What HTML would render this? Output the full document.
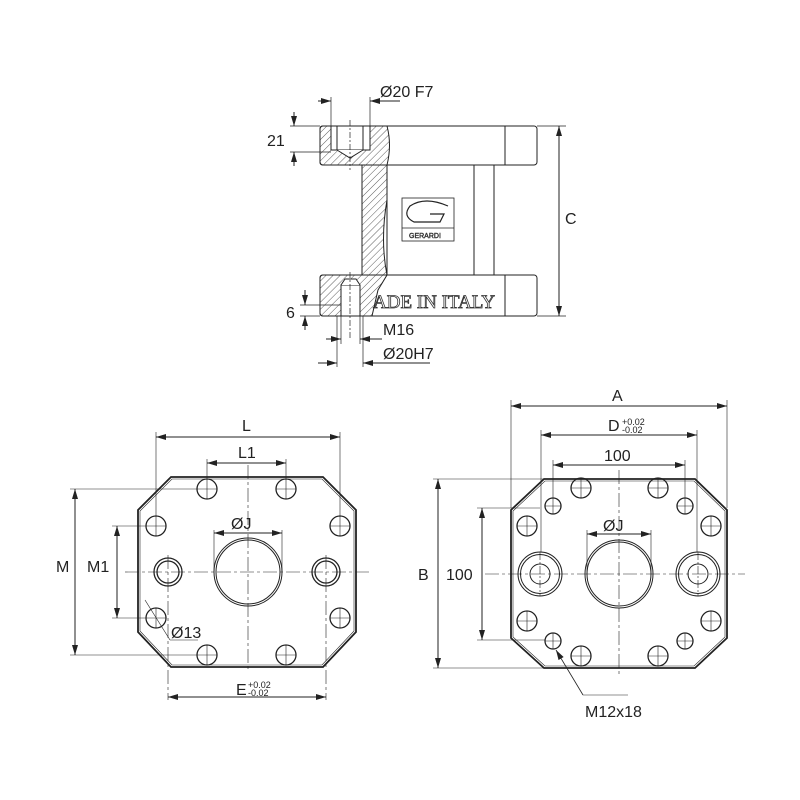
<!DOCTYPE html>
<html><head><meta charset="utf-8"><style>
html,body{margin:0;padding:0;background:#fff}
svg{display:block}
text{font-family:"Liberation Sans",sans-serif;fill:#222}
</style></head><body>
<svg width="800" height="800" viewBox="0 0 800 800" xmlns="http://www.w3.org/2000/svg">
<defs>
<pattern id="h" patternUnits="userSpaceOnUse" width="5" height="5" patternTransform="rotate(45)">
<line x1="0" y1="0" x2="0" y2="5" stroke="#333" stroke-width="0.8"/></pattern>
<marker id="a" viewBox="0 0 10 6" refX="10" refY="3" markerWidth="10" markerHeight="6" orient="auto-start-reverse" markerUnits="userSpaceOnUse"><path d="M0,0L10,3L0,6z" fill="#222"/></marker>
</defs>
<g stroke="#222" fill="none" stroke-width="1">
<!-- TOP VIEW -->
<rect x="320" y="126" width="217" height="39" rx="3" fill="#fff"/>
<rect x="320" y="275" width="217" height="41" rx="3" fill="#fff"/>
<line x1="505" y1="126" x2="505" y2="165"/><line x1="505" y1="275" x2="505" y2="316"/>
<line x1="474" y1="165" x2="474" y2="275"/><line x1="494" y1="165" x2="494" y2="275"/>
<line x1="387" y1="165" x2="387" y2="275"/>
<path d="M320,129 Q320,126 323,126 L387,126 Q392,145 387,165 L387,200 Q380,240 387,275 L378,290 L372,316 L323,316 Q320,316 320,313 L320,278 Q320,275 323,275 L362,275 L362,165 L323,165 Q320,165 320,162 Z" fill="url(#h)"/>
<rect x="331" y="126" width="39" height="24" fill="#fff"/>
<rect x="337" y="126" width="26" height="24" fill="#fff"/>
<path d="M337,150 L350,158 L363,150" fill="#fff"/>
<rect x="341" y="285" width="19" height="31" fill="#fff"/>
<path d="M341,285 L345,279 L356,279 L360,285" fill="#fff"/>
<line x1="350" y1="120" x2="350" y2="170" stroke-dasharray="6,2,2,2" stroke-width="0.7"/>
<line x1="350" y1="272" x2="350" y2="340" stroke-dasharray="6,2,2,2" stroke-width="0.7"/>
<rect x="402" y="198" width="52" height="43" stroke-width="0.8"/>
<line x1="402" y1="228" x2="454" y2="228" stroke-width="0.8"/>
<path d="M448,206 Q425,196 410,206 Q402,216 414,222 L440,222 L444,214 L430,214" stroke-width="1.2"/>
<!-- top dims -->
<line x1="331" y1="97" x2="331" y2="126" stroke-width="0.7"/><line x1="370" y1="97" x2="370" y2="126" stroke-width="0.7"/>
<line x1="318" y1="101" x2="331" y2="101" marker-end="url(#a)"/><line x1="400" y1="101" x2="370" y2="101" marker-end="url(#a)"/>
<line x1="290" y1="126" x2="320" y2="126" stroke-width="0.7"/><line x1="290" y1="152" x2="331" y2="152" stroke-width="0.7"/>
<line x1="294" y1="112" x2="294" y2="126" marker-end="url(#a)"/><line x1="294" y1="166" x2="294" y2="152" marker-end="url(#a)"/>
<line x1="300" y1="305" x2="341" y2="305" stroke-width="0.7"/><line x1="300" y1="316" x2="320" y2="316" stroke-width="0.7"/>
<line x1="305" y1="290" x2="305" y2="305" marker-end="url(#a)"/><line x1="305" y1="330" x2="305" y2="316" marker-end="url(#a)"/>
<line x1="537" y1="126" x2="566" y2="126" stroke-width="0.7"/><line x1="537" y1="316" x2="566" y2="316" stroke-width="0.7"/>
<line x1="559" y1="126" x2="559" y2="316" marker-start="url(#a)" marker-end="url(#a)"/>
<line x1="341" y1="316" x2="341" y2="344" stroke-width="0.7"/><line x1="360" y1="316" x2="360" y2="344" stroke-width="0.7"/>
<line x1="326" y1="339" x2="341" y2="339" marker-end="url(#a)"/><line x1="382" y1="339" x2="360" y2="339" marker-end="url(#a)"/>
<line x1="337" y1="316" x2="337" y2="367" stroke-width="0.7"/><line x1="363" y1="316" x2="363" y2="367" stroke-width="0.7"/>
<line x1="318" y1="363" x2="337" y2="363" marker-end="url(#a)"/><line x1="430" y1="363" x2="363" y2="363" marker-end="url(#a)"/>

<!-- LEFT PLATE -->
<path d="M171,477 L323,477 L356,510 L356,632 L323,667 L171,667 L138,632 L138,510 Z" stroke-width="1.8"/>
<path d="M172,479 L322,479 L354,511 L354,631 L322,665 L172,665 L140,631 L140,511 Z" stroke-width="0.6"/>
<circle cx="248" cy="572" r="34" stroke-width="1"/><circle cx="248" cy="572" r="32" stroke-width="1"/>
<g stroke-width="1.3">
<circle cx="207" cy="489" r="10"/><circle cx="286" cy="489" r="10"/><circle cx="207" cy="655" r="10"/><circle cx="286" cy="655" r="10"/>
<circle cx="156" cy="526" r="10"/><circle cx="340" cy="526" r="10"/><circle cx="156" cy="618" r="10"/><circle cx="340" cy="618" r="10"/>
<circle cx="168" cy="572" r="14"/><circle cx="168" cy="572" r="11"/><circle cx="326" cy="572" r="14"/><circle cx="326" cy="572" r="11"/>
</g>
<g stroke-width="0.6">
<path d="M197,489h20M207,479v20M276,489h20M286,479v20M197,655h20M207,645v20M276,655h20M286,645v20M146,526h20M156,516v20M330,526h20M340,516v20M146,618h20M156,608v20M330,618h20M340,608v20"/>
<line x1="125" y1="572" x2="372" y2="572" stroke-dasharray="14,3,3,3"/>
<line x1="248" y1="465" x2="248" y2="672" stroke-dasharray="14,3,3,3"/>
<line x1="168" y1="555" x2="168" y2="700" stroke-dasharray="14,3,3,3"/>
<line x1="326" y1="555" x2="326" y2="700" stroke-dasharray="14,3,3,3"/>
<line x1="156" y1="432" x2="156" y2="516"/><line x1="340" y1="432" x2="340" y2="516"/>
<line x1="207" y1="459" x2="207" y2="479"/><line x1="286" y1="459" x2="286" y2="479"/>
<line x1="70" y1="489" x2="197" y2="489"/><line x1="70" y1="655" x2="197" y2="655"/>
<line x1="112" y1="526" x2="146" y2="526"/><line x1="112" y1="618" x2="146" y2="618"/>
<line x1="214" y1="530" x2="214" y2="572"/><line x1="282" y1="530" x2="282" y2="572"/>
<line x1="145" y1="600" x2="170" y2="640"/><line x1="170" y1="640" x2="198" y2="640"/>
</g>
<line x1="156" y1="437" x2="340" y2="437" marker-start="url(#a)" marker-end="url(#a)"/>
<line x1="207" y1="463" x2="286" y2="463" marker-start="url(#a)" marker-end="url(#a)"/>
<line x1="75" y1="489" x2="75" y2="655" marker-start="url(#a)" marker-end="url(#a)"/>
<line x1="117" y1="526" x2="117" y2="618" marker-start="url(#a)" marker-end="url(#a)"/>
<line x1="214" y1="533" x2="282" y2="533" marker-start="url(#a)" marker-end="url(#a)"/>
<line x1="168" y1="697" x2="326" y2="697" marker-start="url(#a)" marker-end="url(#a)"/>

<!-- RIGHT PLATE -->
<path d="M544,479 L695,479 L727,510 L727,638 L695,668 L544,668 L511,638 L511,510 Z" stroke-width="1.8"/>
<path d="M545,481 L694,481 L725,511 L725,637 L694,666 L545,666 L513,637 L513,511 Z" stroke-width="0.6"/>
<circle cx="619" cy="574" r="34"/><circle cx="619" cy="574" r="32"/>
<circle cx="540" cy="574" r="22"/><circle cx="540" cy="574" r="19.5"/><circle cx="540" cy="574" r="10"/>
<circle cx="698" cy="574" r="22"/><circle cx="698" cy="574" r="19.5"/><circle cx="698" cy="574" r="10"/>
<g stroke-width="1.3">
<circle cx="581" cy="488" r="10"/><circle cx="658" cy="488" r="10"/><circle cx="581" cy="656" r="10"/><circle cx="658" cy="656" r="10"/>
<circle cx="527" cy="526" r="10"/><circle cx="711" cy="526" r="10"/><circle cx="527" cy="621" r="10"/><circle cx="711" cy="621" r="10"/>
<circle cx="553" cy="506" r="8"/><circle cx="685" cy="506" r="8"/><circle cx="553" cy="641" r="8"/><circle cx="685" cy="641" r="8"/>
</g>
<g stroke-width="0.6">
<path d="M571,488h20M581,478v20M648,488h20M658,478v20M571,656h20M581,646v20M648,656h20M658,646v20M517,526h20M527,516v20M701,526h20M711,516v20M517,621h20M527,611v20M701,621h20M711,611v20M545,506h16M553,498v16M677,506h16M685,498v16M545,641h16M553,633v16M677,641h16M685,633v16"/>
<line x1="485" y1="574" x2="745" y2="574" stroke-dasharray="14,3,3,3"/>
<line x1="619" y1="470" x2="619" y2="675" stroke-dasharray="14,3,3,3"/>
<line x1="540" y1="552" x2="540" y2="596" stroke-dasharray="8,2,2,2"/>
<line x1="698" y1="552" x2="698" y2="596" stroke-dasharray="8,2,2,2"/>
<line x1="511" y1="400" x2="511" y2="508"/><line x1="727" y1="400" x2="727" y2="508"/>
<line x1="541" y1="430" x2="541" y2="552"/><line x1="697" y1="430" x2="697" y2="552"/>
<line x1="553" y1="460" x2="553" y2="498"/><line x1="685" y1="460" x2="685" y2="498"/>
<line x1="433" y1="479" x2="544" y2="479"/><line x1="433" y1="668" x2="544" y2="668"/>
<line x1="477" y1="508" x2="540" y2="508"/><line x1="477" y1="640" x2="545" y2="640"/>
<line x1="587" y1="530" x2="587" y2="574"/><line x1="651" y1="530" x2="651" y2="574"/>
<line x1="583" y1="695" x2="628" y2="695"/>
</g>
<line x1="583" y1="695" x2="556" y2="650" marker-end="url(#a)" stroke-width="0.8"/>
<line x1="511" y1="406" x2="727" y2="406" marker-start="url(#a)" marker-end="url(#a)"/>
<line x1="541" y1="435" x2="697" y2="435" marker-start="url(#a)" marker-end="url(#a)"/>
<line x1="553" y1="465" x2="685" y2="465" marker-start="url(#a)" marker-end="url(#a)"/>
<line x1="438" y1="479" x2="438" y2="668" marker-start="url(#a)" marker-end="url(#a)"/>
<line x1="482" y1="508" x2="482" y2="640" marker-start="url(#a)" marker-end="url(#a)"/>
<line x1="587" y1="534" x2="651" y2="534" marker-start="url(#a)" marker-end="url(#a)"/>
</g>
<g font-size="16">
<text x="380" y="97">Ø20 F7</text>
<text x="267" y="146">21</text>
<text x="565" y="224">C</text>
<text x="286" y="318">6</text>
<text x="383" y="335">M16</text>
<text x="383" y="359">Ø20H7</text>
<text x="242" y="431">L</text>
<text x="238" y="458">L1</text>
<text x="231" y="529">ØJ</text>
<text x="56" y="572">M</text>
<text x="87" y="572">M1</text>
<text x="171" y="638">Ø13</text>
<text x="236" y="695">E</text>
<text x="612" y="401">A</text>
<text x="608" y="431">D</text>
<text x="604" y="461">100</text>
<text x="603" y="531">ØJ</text>
<text x="418" y="580">B</text>
<text x="446" y="580">100</text>
<text x="585" y="717">M12x18</text>
</g>
<g font-size="9">
<text x="248" y="688">+0.02</text><text x="248" y="696">-0.02</text>
<text x="622" y="425">+0.02</text><text x="622" y="433">-0.02</text>
</g>
<text x="373" y="308" style="font-family:'Liberation Serif',serif;font-size:19px;fill:#fff;stroke:#333;stroke-width:0.8">ADE IN ITALY</text>
<text x="409" y="238" font-size="7" fill="#fff" stroke="#333" stroke-width="0.4">GERARDI</text>
</svg>
</body></html>
